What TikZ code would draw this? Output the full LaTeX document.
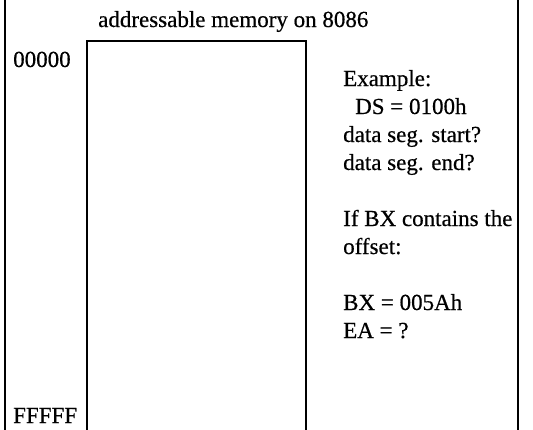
\documentclass[tikz,border=0pt]{standalone}
\usepackage{fontspec}
\setmainfont[FakeBold=0.5]{Liberation Serif}
\begin{document}
\begin{tikzpicture}[x=1pt,y=-1pt,
  txt/.style={inner sep=0pt,anchor=base west,font=\fontsize{23pt}{28pt}\selectfont},
  frame/.style={line width=2pt,draw=black}]
\useasboundingbox (0,0) rectangle (533,429);
\clip (0,0) rectangle (533,429);
% outer frame sides
\coordinate (ol1) at (5,-5);
\coordinate (ol2) at (5,434);
\coordinate (or1) at (518,-5);
\coordinate (or2) at (518,434);
\draw[frame] (ol1) -- (ol2);
\draw[frame] (or1) -- (or2);
% memory box
\coordinate (mbl) at (87,434);
\coordinate (mtl) at (87,41);
\coordinate (mtr) at (306,41);
\coordinate (mbr) at (306,434);
\draw[frame] (mbl) -- (mtl) -- (mtr) -- (mbr);
% labels
\node[txt] (title) at (98,27) {addressable memory on 8086};
\node[txt] (lo) at (13,67) {00000};
\node[txt] (hi) at (13,423) {FFFFF};
\node[txt] (l1) at (343,86) {Example:};
\node[txt] (l2) at (355,114) {DS = 0100h};
\node[txt] (l3) at (343,142) {data seg. start?};
\node[txt] (l4) at (343,170) {data seg. end?};
\node[txt] (l5) at (343,226) {If BX contains the};
\node[txt] (l6) at (343,254) {offset:};
\node[txt] (l7) at (343,310) {BX = 005Ah};
\node[txt] (l8) at (343,338) {EA = ?};
\end{tikzpicture}
\end{document}
